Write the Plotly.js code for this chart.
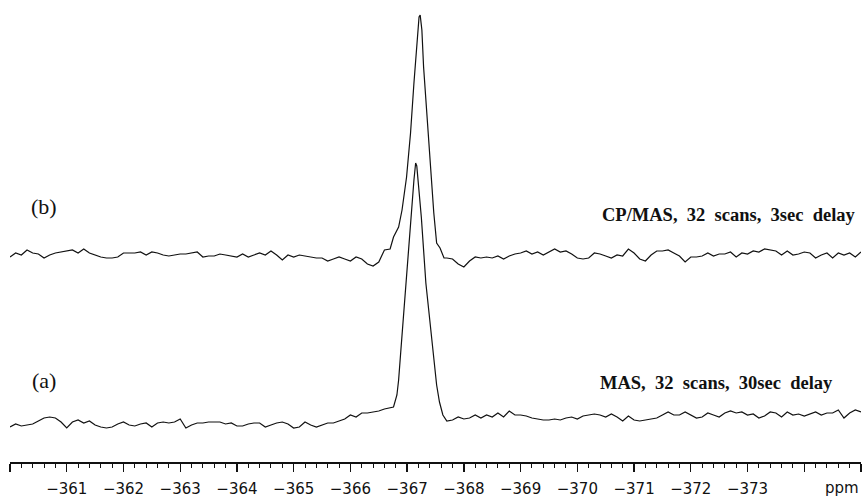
<!DOCTYPE html>
<html>
<head>
<meta charset="utf-8">
<script src="https://cdn.plot.ly/plotly-3.0.1.min.js"></script>
<style>html,body{margin:0;padding:0;background:#fff;}#chart{width:863px;height:499px;}</style>
</head>
<body>
<div id="chart"></div>
<script>
// Chemical shift (ppm) sample positions
const ppmLeft = [-360.0,-360.1,-360.2,-360.3,-360.4,-360.5,-360.6,-360.7,-360.8,-360.9,
  -361.0,-361.1,-361.2,-361.3,-361.4,-361.5,-361.6,-361.7,-361.8,-361.9,
  -362.0,-362.1,-362.2,-362.3,-362.4,-362.5,-362.6,-362.7,-362.8,-362.9,
  -363.0,-363.1,-363.2,-363.3,-363.4,-363.5,-363.6,-363.7,-363.8,-363.9,
  -364.0,-364.1,-364.2,-364.3,-364.4,-364.5,-364.6,-364.7,-364.8,-364.9,
  -365.0,-365.1,-365.2,-365.3,-365.4,-365.5,-365.6,-365.7,-365.8,-365.9,
  -366.0,-366.1,-366.2,-366.3,-366.4,-366.5,-366.6,-366.7];
const ppmRight = [-367.7,-367.8,-367.9,-368.0,-368.1,-368.2,-368.3,-368.4,-368.5,-368.6,
  -368.7,-368.8,-368.9,-369.0,-369.1,-369.2,-369.3,-369.4,-369.5,-369.6,
  -369.7,-369.8,-369.9,-370.0,-370.1,-370.2,-370.3,-370.4,-370.5,-370.6,
  -370.7,-370.8,-370.9,-371.0,-371.1,-371.2,-371.3,-371.4,-371.5,-371.6,
  -371.7,-371.8,-371.9,-372.0,-372.1,-372.2,-372.3,-372.4,-372.5,-372.6,
  -372.7,-372.8,-372.9,-373.0,-373.1,-373.2,-373.3,-373.4,-373.5,-373.6,
  -373.7,-373.8,-373.9,-374.0,-374.1,-374.2,-374.3,-374.4,-374.5,-374.6,
  -374.7,-374.8,-374.9,-375.0];
const ppmPeakB = [-366.76,-366.85,-366.91,-366.99,-367.06,-367.12,-367.17,-367.21,-367.23,-367.26,-367.29,-367.35,-367.42,-367.47,-367.52,-367.58,-367.65];
const ppmPeakA = [-366.76,-366.82,-366.85,-366.89,-366.98,-367.06,-367.12,-367.15,-367.17,-367.20,-367.25,-367.33,-367.45,-367.52,-367.57,-367.63];

// (b) CP/MAS intensities (arbitrary units)
const intLeftB = [-2,2,0,5,2,1,-3,0,2,3, 4,5,2,6,2,0,-2,-3,-3,-2, 2,2,2,3,0,3,2,0,-1,0,
  1,1,2,3,-2,-1,-1,1,0,-1, -2,1,-2,0,2,0,4,0,-5,0, -2,0,-1,-2,-3,-3,-6,-4,-2,-4,
  -6,-2,-4,-9,-11,-7,5,6];
const intPeakB = [18,28,45,78,122,172,215,238,240,225,188,138,88,42,12,7,-3];
const intRightB = [-3,-4,-9,-12,-6,-2,-3,-2,-3,-1, -4,-1,1,2,4,1,3,0,3,6, 3,4,1,-3,-4,-3,2,1,-1,-3,
  0,-1,6,2,-4,-6,0,4,4,5, 2,-1,-7,-2,-2,-1,2,-1,1,1, 3,-2,2,1,4,3,6,5,4,0,
  4,0,1,3,2,-3,0,2,-3,2, 0,2,-2,3];

// (a) MAS intensities (arbitrary units)
const intLeftA = [-7,-4,-6,-5,-4,-1,2,3,2,-2, -8,-2,0,-3,-1,-5,-7,-8,-7,-4, -2,-5,-6,-4,-3,-7,-3,-2,-3,-2,
  1,-8,-5,-3,-3,-2,-2,-2,-4,-3, -6,-6,-4,-3,-3,-7,-5,-3,-2,-4, -8,-7,-2,-5,-7,-5,-3,-3,-1,1,
  5,3,7,7,8,9,11,12];
const intPeakA = [13,25,40,70,137,203,240,257,254,235,203,137,70,35,18,5];
const intRightA = [-1,0,3,1,2,5,2,5,3,7, 3,9,5,5,4,2,1,0,0,1, 0,2,3,1,4,5,6,5,3,6,
  3,-1,4,0,-1,0,1,2,5,8, 5,5,8,5,2,3,7,5,3,7, 9,7,8,5,6,2,4,8,7,3,
  8,5,6,4,6,8,5,7,7,10, 2,7,10,8];

const tickVals = [-360,-361,-362,-363,-364,-365,-366,-367,-368,-369,-370,-371,-372,-373,-374,-375];
const tickText = ['','−361','−362','−363','−364','−365','−366','−367','−368','−369','−370','−371','−372','−373','',''];
const labelB = 'CP/MAS,  32  scans,  3sec  delay';
const labelA = 'MAS,  32  scans,  30sec  delay';

const xB = ppmLeft.concat(ppmPeakB, ppmRight);
const yB = intLeftB.concat(intPeakB, intRightB);
const xA = ppmLeft.concat(ppmPeakA, ppmRight);
const yA = intLeftA.concat(intPeakA, intRightA);

const line = {color:'#111', width:1.2, shape:'linear'};
const traces = [
  {x:xA, y:yA, type:'scatter', mode:'lines', line:line, yaxis:'y', hoverinfo:'skip'},
  {x:xB, y:yB, type:'scatter', mode:'lines', line:line, yaxis:'y2', hoverinfo:'skip'}
];

const layout = {
  width:863, height:499,
  margin:{l:10, r:2, t:5, b:37},
  paper_bgcolor:'#fff', plot_bgcolor:'#fff',
  showlegend:false,
  xaxis:{
    range:[-360,-375], showgrid:false, zeroline:false,
    showline:true, linecolor:'#111', linewidth:1.5,
    ticks:'outside', ticklen:8, tickwidth:1.3, tickcolor:'#111',
    tickvals:tickVals, ticktext:tickText, ticklabelstandoff:4,
    tickfont:{family:'DejaVu Sans', size:15, color:'#111'},
    minor:{dtick:0.2, tick0:-360, ticks:'outside', ticklen:4, tickwidth:1, tickcolor:'#111', showgrid:false}
  },
  yaxis:{range:[-42,415], visible:false, fixedrange:true},
  yaxis2:{range:[-207,250], visible:false, overlaying:'y', fixedrange:true},
  annotations:[
    {xref:'paper', yref:'paper', x:0.022, y:0.558, xanchor:'left', yanchor:'middle', showarrow:false,
     text:'(b)', font:{family:'Liberation Serif', size:22, color:'#111'}},
    {xref:'paper', yref:'paper', x:0.024, y:0.179, xanchor:'left', yanchor:'middle', showarrow:false,
     text:'(a)', font:{family:'Liberation Serif', size:22, color:'#111'}},
    {xref:'paper', yref:'paper', x:0.996, y:0.540, xanchor:'right', yanchor:'middle', showarrow:false,
     text:'<b>'+labelB+'</b>', font:{family:'Liberation Serif', size:18.5, color:'#111'}},
    {xref:'paper', yref:'paper', x:0.970, y:0.173, xanchor:'right', yanchor:'middle', showarrow:false,
     text:'<b>'+labelA+'</b>', font:{family:'Liberation Serif', size:18.5, color:'#111'}},
    {xref:'paper', yref:'paper', x:0.978, y:-0.057, xanchor:'center', yanchor:'middle', showarrow:false,
     text:'ppm', font:{family:'DejaVu Sans', size:15, color:'#111'}}
  ]
};

Plotly.newPlot('chart', traces, layout, {staticPlot:true, displayModeBar:false});
</script>
</body>
</html>
